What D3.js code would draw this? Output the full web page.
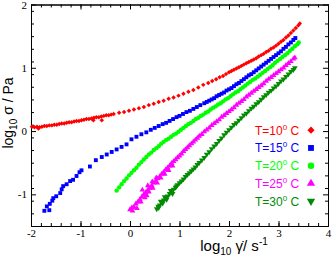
<!DOCTYPE html>
<html>
<head>
<meta charset="utf-8">
<script src="https://cdn.jsdelivr.net/npm/d3@7"></script>
<style>
  body { margin: 0; background: #fff; }
  text { fill: #000; }
</style>
</head>
<body>
<div id="chart"></div>
<script>
// Plot frame and size
const width = 332;
const height = 259;
const frame = { left: 31, right: 328, top: 4.5, bottom: 226 };

// Axis ticks
const xTicks = [-2, -1, 0, 1, 2, 3, 4];
const yTicks = [-1, 0, 1, 2];

// Temperatures (legend)
const temps = [10, 15, 20, 25, 30];

// [log10 shear rate, log10 stress]
const t10 = [
  [-1.98, 0.07], [-1.93, 0.06], [-1.88, 0.07], [-1.85, 0.04], [-1.83, 0.06], [-1.78, 0.07],
  [-1.73, 0.08], [-1.68, 0.08], [-1.63, 0.09], [-1.58, 0.09], [-1.53, 0.10], [-1.48, 0.10],
  [-1.43, 0.11], [-1.38, 0.12], [-1.33, 0.12], [-1.28, 0.13], [-1.23, 0.14], [-1.18, 0.14],
  [-1.13, 0.15], [-1.08, 0.16], [-1.03, 0.16], [-0.98, 0.17], [-0.93, 0.18], [-0.88, 0.19],
  [-0.83, 0.19], [-0.78, 0.20], [-0.74, 0.17], [-0.73, 0.21], [-0.68, 0.22], [-0.63, 0.22],
  [-0.58, 0.23], [-0.57, 0.17], [-0.53, 0.24], [-0.48, 0.25], [-0.43, 0.25], [-0.38, 0.26],
  [-0.33, 0.27], [-0.22, 0.29], [-0.12, 0.30], [-0.02, 0.32], [0.08, 0.34], [0.18, 0.36],
  [0.28, 0.38], [0.38, 0.41], [0.48, 0.43], [0.58, 0.46], [0.68, 0.48], [0.78, 0.51],
  [0.88, 0.53], [0.98, 0.56], [1.08, 0.59], [1.18, 0.62], [1.28, 0.65], [1.38, 0.69],
  [1.48, 0.73], [1.58, 0.76], [1.66, 0.79], [1.74, 0.82], [1.81, 0.85], [1.88, 0.87],
  [1.94, 0.90], [2.00, 0.93], [2.05, 0.95], [2.10, 0.97], [2.15, 0.99], [2.20, 1.01],
  [2.25, 1.03], [2.30, 1.05], [2.35, 1.07], [2.40, 1.09], [2.45, 1.11], [2.50, 1.13],
  [2.55, 1.15], [2.60, 1.18], [2.65, 1.20], [2.70, 1.22], [2.75, 1.25], [2.80, 1.27],
  [2.85, 1.30], [2.90, 1.32], [2.95, 1.35], [3.00, 1.38], [3.05, 1.41], [3.10, 1.44],
  [3.15, 1.48], [3.20, 1.51], [3.25, 1.55], [3.30, 1.59], [3.35, 1.63], [3.40, 1.67],
  [3.43, 1.70]
];

const t15 = [
  [-1.73, -1.26], [-1.63, -1.25], [-1.68, -1.19], [-1.62, -1.15], [-1.57, -1.10], [-1.55, -1.06],
  [-1.49, -1.03], [-1.41, -0.98], [-1.38, -0.92], [-1.35, -0.87], [-1.28, -0.84], [-1.21, -0.79],
  [-1.15, -0.77], [-1.08, -0.71], [-1.02, -0.65], [-0.98, -0.62], [-0.81, -0.56], [-0.69, -0.46],
  [-0.57, -0.41], [-0.47, -0.37], [-0.37, -0.33], [-0.27, -0.29], [-0.17, -0.25], [-0.07, -0.21],
  [0.03, -0.13], [0.13, -0.09], [0.23, -0.05], [0.33, -0.02], [0.42, 0.02], [0.50, 0.05],
  [0.58, 0.08], [0.66, 0.11], [0.73, 0.13], [0.80, 0.16], [0.87, 0.19], [0.94, 0.22],
  [1.00, 0.24], [1.07, 0.27], [1.14, 0.30], [1.21, 0.32], [1.28, 0.35], [1.35, 0.38],
  [1.42, 0.41], [1.50, 0.44], [1.55, 0.46], [1.60, 0.48], [1.65, 0.50], [1.70, 0.52],
  [1.75, 0.55], [1.80, 0.57], [1.85, 0.59], [1.90, 0.61], [1.95, 0.64], [2.00, 0.66],
  [2.05, 0.68], [2.10, 0.71], [2.15, 0.74], [2.20, 0.76], [2.25, 0.79], [2.30, 0.82],
  [2.35, 0.85], [2.40, 0.88], [2.45, 0.90], [2.50, 0.93], [2.55, 0.96], [2.60, 0.99],
  [2.65, 1.02], [2.70, 1.05], [2.75, 1.08], [2.80, 1.11], [2.85, 1.14], [2.90, 1.17],
  [2.95, 1.20], [3.00, 1.23], [3.05, 1.26], [3.10, 1.30], [3.15, 1.33], [3.20, 1.37],
  [3.25, 1.40], [3.30, 1.44], [3.34, 1.47]
];

const t20 = [
  [-0.27, -0.94], [-0.22, -0.89], [-0.17, -0.84], [-0.12, -0.79], [-0.07, -0.75], [-0.02, -0.70],
  [0.03, -0.66], [0.08, -0.62], [0.13, -0.58], [0.18, -0.53], [0.23, -0.49], [0.28, -0.45],
  [0.33, -0.41], [0.38, -0.37], [0.43, -0.34], [0.48, -0.30], [0.53, -0.27], [0.58, -0.24],
  [0.63, -0.20], [0.68, -0.17], [0.73, -0.14], [0.78, -0.12], [0.83, -0.09], [0.88, -0.06],
  [0.93, -0.04], [0.98, -0.01], [1.03, 0.02], [1.08, 0.05], [1.13, 0.08], [1.18, 0.11],
  [1.23, 0.13], [1.28, 0.16], [1.33, 0.19], [1.38, 0.21], [1.43, 0.24], [1.48, 0.26],
  [1.53, 0.29], [1.58, 0.31], [1.63, 0.34], [1.68, 0.37], [1.73, 0.39], [1.78, 0.42],
  [1.83, 0.44], [1.88, 0.47], [1.93, 0.50], [1.98, 0.52], [2.03, 0.55], [2.08, 0.58],
  [2.13, 0.61], [2.18, 0.63], [2.23, 0.66], [2.28, 0.69], [2.33, 0.72], [2.38, 0.75],
  [2.43, 0.78], [2.48, 0.81], [2.53, 0.83], [2.58, 0.86], [2.63, 0.89], [2.68, 0.92],
  [2.73, 0.95], [2.78, 0.98], [2.83, 1.01], [2.88, 1.04], [2.93, 1.08], [2.98, 1.11],
  [3.03, 1.14], [3.08, 1.17], [3.13, 1.20], [3.18, 1.23], [3.23, 1.27], [3.28, 1.30],
  [3.33, 1.34], [3.38, 1.37], [3.41, 1.40]
];

const t25 = [
  [0.00, -1.24], [0.04, -1.21], [0.08, -1.20], [0.12, -1.15], [0.16, -1.12], [0.20, -1.08],
  [0.24, -1.04], [0.28, -1.00], [0.32, -0.97], [0.36, -0.93], [0.40, -0.90], [0.44, -0.86],
  [0.48, -0.82], [0.52, -0.79], [0.56, -0.75], [0.60, -0.72], [0.64, -0.68], [0.68, -0.65],
  [0.72, -0.61], [0.76, -0.58], [0.80, -0.55], [0.84, -0.51], [0.88, -0.48], [0.92, -0.45],
  [0.96, -0.42], [1.00, -0.39], [1.04, -0.36], [1.08, -0.32], [1.12, -0.29], [1.16, -0.26],
  [1.20, -0.23], [1.24, -0.20], [1.28, -0.17], [1.32, -0.14], [1.36, -0.11], [1.40, -0.08],
  [1.45, -0.05], [1.50, -0.01], [1.55, 0.02], [1.60, 0.05], [1.65, 0.09], [1.70, 0.12],
  [1.75, 0.15], [1.80, 0.18], [1.85, 0.22], [1.90, 0.25], [1.95, 0.28], [2.00, 0.31],
  [2.05, 0.34], [2.10, 0.37], [2.15, 0.41], [2.20, 0.44], [2.25, 0.47], [2.30, 0.50],
  [2.35, 0.54], [2.40, 0.57], [2.45, 0.60], [2.50, 0.63], [2.55, 0.66], [2.60, 0.69],
  [2.65, 0.72], [2.70, 0.75], [2.75, 0.79], [2.80, 0.82], [2.85, 0.85], [2.90, 0.88],
  [2.95, 0.91], [3.00, 0.94], [3.05, 0.97], [3.10, 1.00], [3.15, 1.04], [3.20, 1.07],
  [3.25, 1.10], [3.30, 1.14], [3.33, 1.16],
  [0.05, -1.26], [0.14, -1.22], [0.22, -1.12], [0.25, -0.93], [0.30, -1.05], [0.34, -1.02],
  [0.36, -0.86], [0.38, -0.96], [0.45, -0.80], [0.46, -0.90], [0.53, -0.74], [0.55, -0.82],
  [0.62, -0.74], [0.70, -0.68], [0.78, -0.62], [0.86, -0.55]
];

const t30 = [
  [0.54, -1.23], [0.57, -1.19], [0.58, -1.21], [0.60, -1.17], [0.62, -1.11], [0.64, -1.13],
  [0.66, -1.14], [0.68, -1.09], [0.70, -1.04], [0.72, -1.06], [0.74, -1.08], [0.76, -1.03],
  [0.80, -0.99], [0.82, -0.94], [0.84, -0.96], [0.86, -0.99], [0.88, -0.92], [0.92, -0.89],
  [0.94, -0.87], [0.96, -0.85], [1.00, -0.82], [1.04, -0.79], [1.08, -0.76], [1.12, -0.72],
  [1.16, -0.69], [1.20, -0.66], [1.24, -0.63], [1.28, -0.60], [1.32, -0.57], [1.36, -0.53],
  [1.40, -0.50], [1.45, -0.46], [1.50, -0.42], [1.55, -0.37], [1.60, -0.33], [1.65, -0.28],
  [1.70, -0.24], [1.75, -0.20], [1.80, -0.15], [1.85, -0.11], [1.90, -0.06], [1.95, -0.02],
  [2.00, 0.02], [2.05, 0.06], [2.10, 0.10], [2.15, 0.13], [2.20, 0.17], [2.25, 0.21],
  [2.30, 0.25], [2.35, 0.28], [2.40, 0.32], [2.45, 0.36], [2.50, 0.39], [2.55, 0.43],
  [2.60, 0.46], [2.65, 0.50], [2.70, 0.54], [2.75, 0.57], [2.80, 0.61], [2.85, 0.64],
  [2.90, 0.68], [2.95, 0.71], [3.00, 0.75], [3.05, 0.79], [3.10, 0.82], [3.15, 0.86],
  [3.20, 0.90], [3.25, 0.94], [3.30, 0.97], [3.33, 1.00]
];

const seriesData = [t10, t15, t20, t25, t30];
const colors = ["#ff0000", "#0000ff", "#00ff00", "#ff00ff", "#008b00"];
// symbol type and rotation per series: diamond, square, circle, triangle up, triangle down
const shapes = [
  { type: d3.symbolSquare, rot: 45, size: 10, legend: 26 },
  { type: d3.symbolSquare, rot: 0, size: 15, legend: 34 },
  { type: d3.symbolCircle, rot: 0, size: 15, legend: 34 },
  { type: d3.symbolTriangle, rot: 0, size: 14, legend: 30 },
  { type: d3.symbolTriangle, rot: 180, size: 14, legend: 30 }
];

const svg = d3.select("#chart")
  .append("svg")
    .attr("width", width)
    .attr("height", height);

const x = d3.scaleLinear().domain([-2, 4]).range([frame.left, frame.right]);
const y = d3.scaleLinear().domain([-1.5, 2]).range([frame.bottom, frame.top]);

const xMinor = d3.range(-20, 41, 2).map(d => d / 10);
const yMinor = d3.range(-15, 21, 2).map(d => d / 10);
const fmt = d => String(d);

// Minor ticks (inward, all four sides)
svg.append("g").attr("transform", `translate(0,${frame.bottom})`)
  .call(d3.axisBottom(x).tickValues(xMinor).tickSize(-3).tickSizeOuter(0).tickFormat(""));
svg.append("g").attr("transform", `translate(0,${frame.top})`)
  .call(d3.axisTop(x).tickValues(xMinor).tickSize(-3).tickSizeOuter(0).tickFormat(""));
svg.append("g").attr("transform", `translate(${frame.left},0)`)
  .call(d3.axisLeft(y).tickValues(yMinor).tickSize(-3).tickSizeOuter(0).tickFormat(""));
svg.append("g").attr("transform", `translate(${frame.right},0)`)
  .call(d3.axisRight(y).tickValues(yMinor).tickSize(-3).tickSizeOuter(0).tickFormat(""));

// Major ticks with labels
svg.append("g").attr("class", "lab").attr("transform", `translate(0,${frame.bottom})`)
  .call(d3.axisBottom(x).tickValues(xTicks).tickSize(-5).tickSizeOuter(0).tickPadding(3).tickFormat(fmt));
svg.append("g").attr("transform", `translate(0,${frame.top})`)
  .call(d3.axisTop(x).tickValues(xTicks).tickSize(-5).tickSizeOuter(0).tickFormat(""));
svg.append("g").attr("class", "lab").attr("transform", `translate(${frame.left},0)`)
  .call(d3.axisLeft(y).tickValues(yTicks).tickSize(-5).tickSizeOuter(0).tickPadding(4).tickFormat(fmt));
svg.append("g").attr("transform", `translate(${frame.right},0)`)
  .call(d3.axisRight(y).tickValues(yTicks).tickSize(-5).tickSizeOuter(0).tickFormat(""));

svg.selectAll(".domain, .tick line").attr("stroke", "#000").attr("stroke-width", 1);
svg.selectAll(".lab text")
  .style("font-family", "'Liberation Serif', 'DejaVu Serif', serif")
  .style("font-size", "11px")
  .attr("fill", "#000");

// Data points
seriesData.forEach((data, i) => {
  const s = shapes[i];
  const sym = d3.symbol().type(s.type).size(s.size);
  svg.append("g")
    .selectAll("path")
    .data(data)
    .join("path")
      .attr("d", sym)
      .attr("transform", d => `translate(${x(d[0])},${y(d[1])}) rotate(${s.rot})`)
      .attr("fill", colors[i]);
});

// Legend
const legend = svg.append("g");
temps.forEach((t, i) => {
  const base = 134.5 + i * 17.75;
  const txt = legend.append("text")
    .attr("x", 255)
    .attr("y", base)
    .style("font-family", "'Liberation Sans', Arial, sans-serif")
    .style("font-size", "12px")
    .style("fill", colors[i]);
  txt.append("tspan").text(`T=${t}`);
  txt.append("tspan").attr("dy", -5).style("font-size", "8px").text("0");
  txt.append("tspan").attr("dy", 5).text(" C");
  const s = shapes[i];
  legend.append("path")
    .attr("d", d3.symbol().type(s.type).size(s.legend))
    .attr("transform", `translate(311,${base - 4.3}) rotate(${s.rot})`)
    .attr("fill", colors[i]);
});

// Axis titles
const sans = "'Liberation Sans', Arial, sans-serif";
const xt = svg.append("text")
  .attr("x", 234)
  .attr("y", 251)
  .attr("text-anchor", "middle")
  .style("font-family", sans)
  .style("font-size", "15px");
xt.append("tspan").text("log");
xt.append("tspan").attr("dy", 4).style("font-size", "10px").text("10");
xt.append("tspan").attr("dy", -4).text(" \u03B3\u0307/ s");
xt.append("tspan").attr("dy", -6).style("font-size", "10px").text("-1");

const yt = svg.append("text")
  .attr("transform", "translate(13,113) rotate(-90)")
  .attr("text-anchor", "middle")
  .style("font-family", sans)
  .style("font-size", "14px");
yt.append("tspan").text("log");
yt.append("tspan").attr("dy", 4).style("font-size", "10px").text("10");
yt.append("tspan").attr("dy", -4).text(" \u03C3 / Pa");
</script>
</body>
</html>
